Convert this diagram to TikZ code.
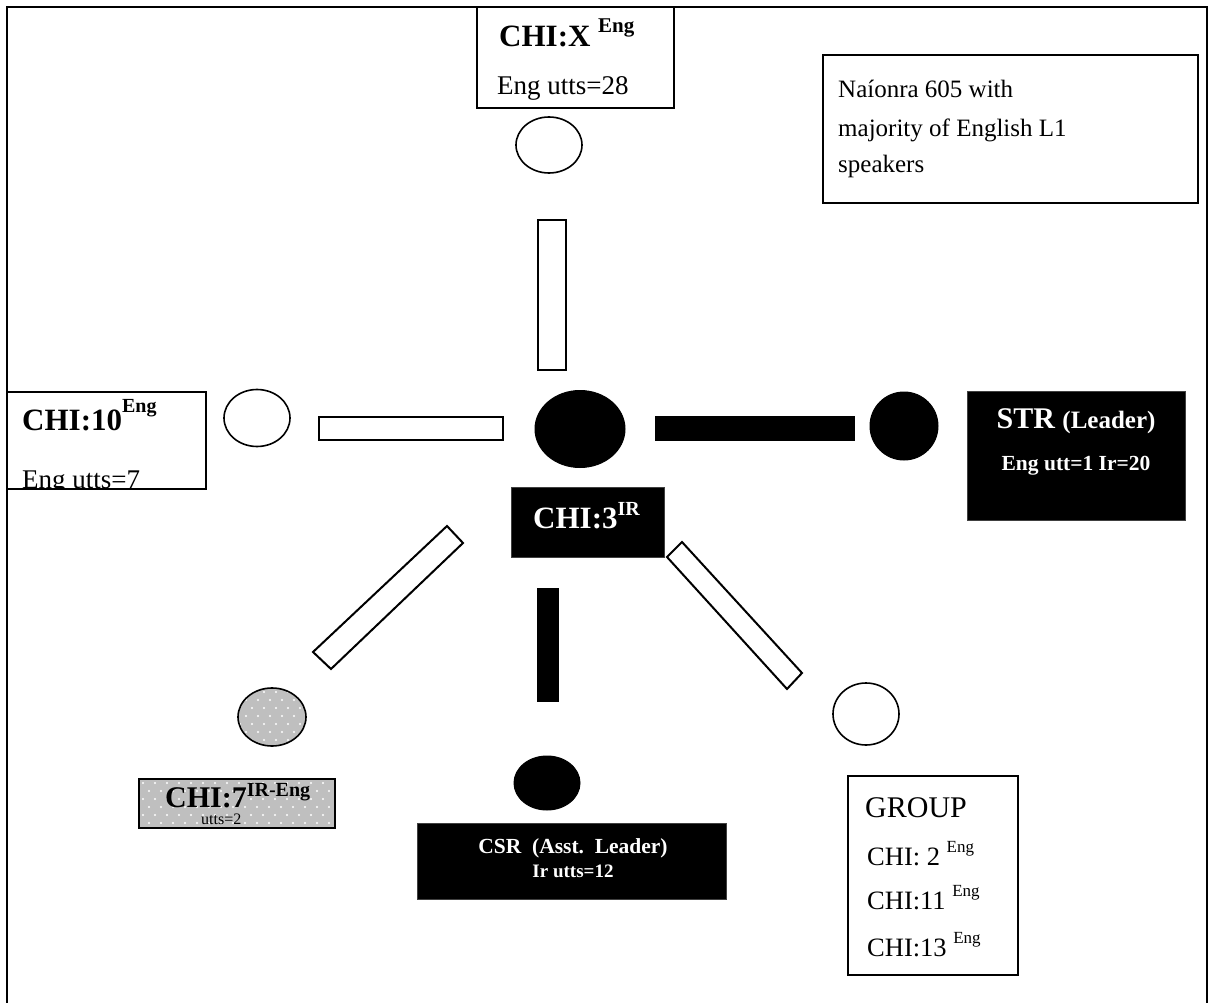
\documentclass[tikz,border=0pt]{standalone}
\usepackage{fontspec}
\setmainfont{Liberation Serif}
\usetikzlibrary{shapes.geometric}
\newcommand\myfs[2]{\fontsize{#1}{#2}\selectfont}
\begin{document}
\begin{tikzpicture}[x=1pt,y=-1pt,
  box/.style={draw=black, line width=2pt, rectangle, inner sep=0pt},
  blackbox/.style={fill=black, draw=black!75, line width=1pt, rectangle, inner sep=0pt},
  hollow/.style={draw=black, line width=1.6pt, ellipse, inner sep=0pt, fill=white},
  solid/.style={fill=black, draw=black, line width=1pt, ellipse, inner sep=0pt},
  whitebar/.style={draw=black, line width=2pt, fill=white},
  blackbar/.style={fill=black},
  txt/.style={inner sep=0pt, anchor=base west},
  ctxt/.style={inner sep=0pt, anchor=base},
  dotgray/.style={fill=black!25}
]
\useasboundingbox (0,0) rectangle (1208,1003);
% outer frame
\draw[line width=2pt] (7,1010) -- (7,7) -- (1207,7) -- (1207,1010);

% ---------- top: CHI:X ----------
\node[box, minimum width=197, minimum height=101] (chix) at (575.5,57.5) {};
\node[txt] (chixa) at (499,47) {\myfs{31}{36}\bfseries CHI:X \raisebox{14pt}{\myfs{21}{21}Eng}};
\node[txt] (chixb) at (497,95) {\myfs{27}{32}Eng utts=28};
\node[hollow, minimum width=66, minimum height=56] (ctop) at (549,145) {};
\draw[whitebar] (538,220) rectangle (566,370);

% ---------- Naionra box ----------
\node[box, minimum width=375, minimum height=148] (nai) at (1010.5,129) {};
\node[txt] (nai1) at (838,98) {\myfs{25}{30}Naíonra 605 with};
\node[txt] (nai2) at (838,137) {\myfs{25}{30}majority of English L1};
\node[txt] (nai3) at (838,173) {\myfs{25}{30}speakers};

% ---------- left: CHI:10 ----------
\begin{scope}
\clip (7,392) rectangle (206,488);
\node[txt] (chi10b) at (22,488) {\myfs{27}{32}Eng utts=7};
\end{scope}
\node[box, minimum width=199, minimum height=97] (chi10) at (106.5,440.5) {};
\node[txt] (chi10a) at (22,430) {\myfs{31}{36}\bfseries CHI:10\raisebox{18pt}{\myfs{20}{20}Eng}};
\node[hollow, minimum width=66, minimum height=57] (cleft) at (257,418) {};
\draw[whitebar] (319,417) rectangle (503,440);

% ---------- center ----------
\node[solid, minimum width=90, minimum height=77] (ccen) at (580,429) {};
\node[blackbox, minimum width=153, minimum height=70] (chi3) at (587.5,522) {};
\node[txt, text=white] (chi3t) at (533,528) {\myfs{31}{36}\bfseries CHI:3\raisebox{13pt}{\myfs{20}{20}IR}};

% ---------- right: STR ----------
\fill[blackbar] (655,416) rectangle (855,441);
\node[solid, minimum width=68, minimum height=68] (cright) at (904,426) {};
\node[blackbox, minimum width=218, minimum height=129] (str) at (1076,455.5) {};
\node[ctxt, text=white] (stra) at (1076,428) {\bfseries\myfs{30}{36}STR \myfs{25}{30}(Leader)};
\node[ctxt, text=white] (strb) at (1076,470) {\bfseries\myfs{21.5}{26}Eng utt=1 Ir=20};

% ---------- bottom-left: CHI:7 ----------
\draw[whitebar] (447,526) -- (463,543) -- (331,669) -- (313,652) -- cycle;
\node[minimum width=68, minimum height=58, ellipse, inner sep=0pt, dotgray] (cbl) at (272,717) {};
\begin{scope}
\clip (272,717) ellipse (34 and 29);
\foreach \r in {0,...,8} {
  \pgfmathsetmacro\yy{684+8*\r}
  \pgfmathsetmacro\off{mod(\r,2)*6}
  \foreach \c in {0,...,7} {
    \fill[white] ({234+\off+12*\c},\yy) circle (1.1);
  }
}
\end{scope}
\draw[line width=1.6pt] (cbl.center) ellipse (34 and 29);
\fill[dotgray] (139,779) rectangle (335,828);
\begin{scope}
\clip (139,779) rectangle (335,828);
\foreach \r in {0,...,6} {
  \pgfmathsetmacro\yy{783+8*\r}
  \pgfmathsetmacro\off{mod(\r,2)*6}
  \foreach \c in {0,...,17} {
    \fill[white] ({143+\off+12*\c},\yy) circle (1.1);
  }
}
\end{scope}
\node[box, minimum width=196, minimum height=49] (chi7) at (237,803.5) {};
\node[txt] (chi7a) at (165,807) {\myfs{30}{36}\bfseries CHI:7\raisebox{11pt}{\myfs{20}{20}IR-Eng}};
\node[txt] (chi7b) at (201,824) {\myfs{16}{18}utts=2};

% ---------- bottom: CSR ----------
\fill[blackbar] (537,588) rectangle (559,702);
\node[solid, minimum width=66, minimum height=54] (cbot) at (547,783) {};
\node[blackbox, minimum width=309, minimum height=76] (csr) at (571.5,861) {};
\node[ctxt, text=white] (csra) at (573,853) {\bfseries\myfs{21.5}{26}CSR\ \ (Asst.\ \ Leader)};
\node[ctxt, text=white] (csrb) at (573,877) {\bfseries\myfs{19}{23}Ir utts=12};

% ---------- bottom-right: GROUP ----------
\draw[whitebar] (667,557) -- (682,542) -- (802,673) -- (787,689) -- cycle;
\node[hollow, minimum width=66, minimum height=62] (cbr) at (866,714) {};
\node[box, minimum width=170, minimum height=199] (grp) at (933,875.5) {};
\node[txt] (g0) at (865,817) {\myfs{30}{36}GROUP};
\node[txt] (g1) at (867,865) {\myfs{26.5}{32}CHI: 2 \raisebox{13pt}{\myfs{17}{20}Eng}};
\node[txt] (g2) at (867,909) {\myfs{26.5}{32}CHI:11 \raisebox{13pt}{\myfs{17}{20}Eng}};
\node[txt] (g3) at (867,956) {\myfs{26.5}{32}CHI:13 \raisebox{13pt}{\myfs{17}{20}Eng}};
\end{tikzpicture}
\end{document}
